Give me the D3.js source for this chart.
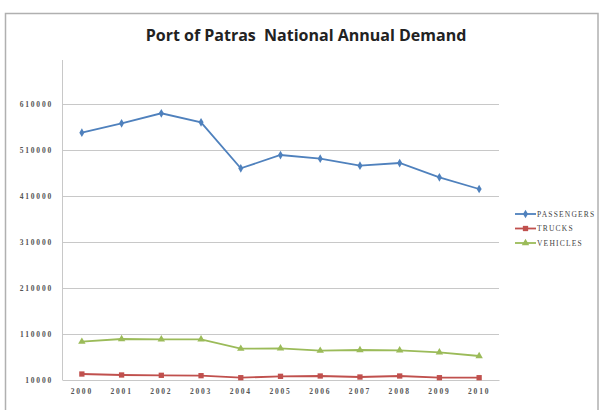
<!DOCTYPE html>
<html><head><meta charset="utf-8">
<script src="https://cdn.jsdelivr.net/npm/d3@7"></script>
<style>body{margin:0;background:#fff}svg{display:block}</style>
</head><body>
<svg id="c" width="602" height="410"></svg>
<script>
const years = ["2000","2001","2002","2003","2004","2005","2006","2007","2008","2009","2010"];
const passengers = [547600,568000,589800,570200,470200,499100,491100,475900,481700,450600,425200];
const trucks = [23000,20900,20200,19400,15000,18000,18700,16500,18700,15000,15000];
const vehicles = [93300,99100,98400,98400,78100,78800,73700,75200,74500,70100,62200];
const yTicks = [10000,110000,210000,310000,410000,510000,610000];
const seriesNames = ["PASSENGERS","TRUCKS","VEHICLES"];
const seriesColors = ["#4F81BD","#C0504D","#9BBB59"];

const svg = d3.select("#c");
// outer frame
svg.append("rect").attr("x",5.5).attr("y",13.5).attr("width",592.5).attr("height",400)
  .attr("fill","#fff").attr("stroke","#b0b0b0").attr("stroke-width",1.5);

const pLeft=62, pRight=499, pTop=60, pBottom=380;
const x = d3.scaleBand().domain(years).range([pLeft,pRight]);
const y = d3.scaleLinear().domain([10000,610000]).range([pBottom,104]);

// gridlines
svg.append("g").selectAll("line").data(yTicks.slice(1)).join("line")
  .attr("x1",pLeft).attr("x2",pRight).attr("y1",d=>Math.round(y(d))+0.5).attr("y2",d=>Math.round(y(d))+0.5)
  .attr("stroke","#c8c8c8").attr("stroke-width",1.2);

const tickFont = sel => sel.attr("font-family","Liberation Serif").attr("font-size","7.5px")
  .attr("font-weight","bold").attr("fill","#555").attr("letter-spacing","1.8px");

// y axis
const ya = svg.append("g").attr("transform",`translate(${pLeft},0)`)
  .call(d3.axisLeft(y).tickValues(yTicks).tickSize(0).tickPadding(9).tickFormat(d3.format("d")));
ya.select(".domain").remove();
ya.append("line").attr("x1",0.5).attr("x2",0.5).attr("y1",pTop).attr("y2",pBottom).attr("stroke","#c8c8c8");
tickFont(ya.selectAll("text"));

// x axis
const xa = svg.append("g").attr("transform",`translate(0,${pBottom})`)
  .call(d3.axisBottom(x).tickSize(0).tickPadding(9));
xa.select(".domain").attr("stroke","#c8c8c8").attr("stroke-width",1.2);
tickFont(xa.selectAll("text"));

// title
svg.append("text").attr("x",306).attr("y",41).attr("text-anchor","middle")
  .style("white-space","pre")
  .attr("font-family","Open Sans, Lato, sans-serif").attr("font-weight","bold").attr("font-size","16px")
  .attr("fill","#222").text("Port of Patras  National Annual Demand");

const allSeries = [passengers, trucks, vehicles];
const line = d3.line().x((d,i)=>x(years[i])+x.bandwidth()/2).y(d=>y(d));
const symbols = [d3.symbolDiamond, d3.symbolSquare, d3.symbolTriangle];
const sizes = [22, 28, 24];

allSeries.forEach((data,k)=>{
  svg.append("path").datum(data).attr("d",line).attr("fill","none")
    .attr("stroke",seriesColors[k]).attr("stroke-width",1.8);
  svg.append("g").selectAll("path").data(data).join("path")
    .attr("transform",(d,i)=>`translate(${x(years[i])+x.bandwidth()/2},${y(d)})`)
    .attr("d",d3.symbol().type(symbols[k]).size(sizes[k]))
    .attr("fill",seriesColors[k]);
});

// legend
const lg = svg.append("g");
seriesNames.forEach((name,k)=>{
  const ly = 214 + k*14.5;
  lg.append("line").attr("x1",515).attr("x2",536).attr("y1",ly).attr("y2",ly)
    .attr("stroke",seriesColors[k]).attr("stroke-width",1.8);
  lg.append("path").attr("transform",`translate(525.5,${ly})`)
    .attr("d",d3.symbol().type(symbols[k]).size(sizes[k])).attr("fill",seriesColors[k]);
  lg.append("text").attr("x",537).attr("y",ly+2.5).attr("font-family","Liberation Serif")
    .attr("font-size","7.5px").attr("letter-spacing","1.2px").attr("fill","#444").text(name);
});
</script>
</body></html>
